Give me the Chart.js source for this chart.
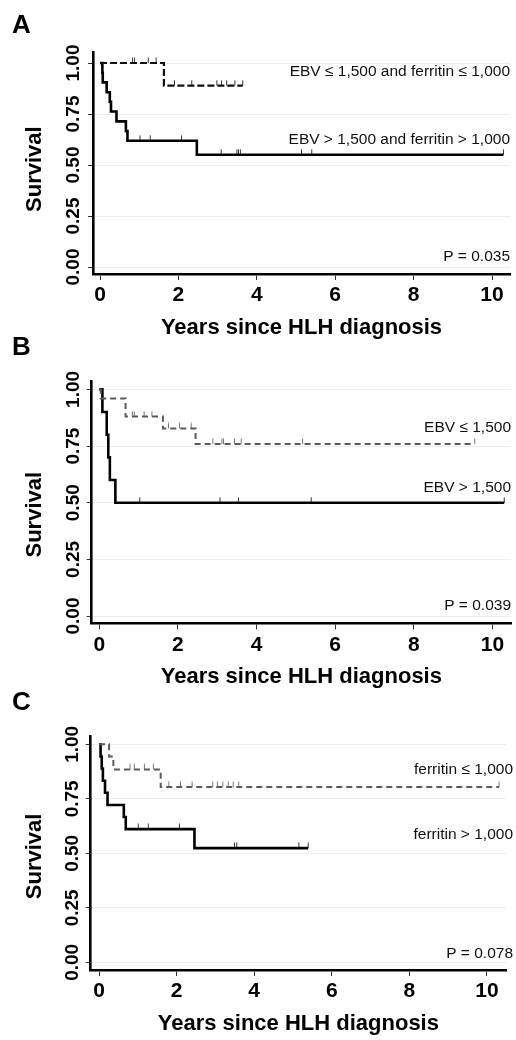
<!DOCTYPE html>
<html><head><meta charset="utf-8">
<script src="https://cdn.jsdelivr.net/npm/chart.js@4.4.0/dist/chart.umd.min.js"></script>
<style>
html,body{margin:0;padding:0;background:#fff;}
#wrap{position:relative;width:516px;height:1040px;overflow:hidden;}
canvas{position:absolute;left:0;top:0;}
</style></head><body>
<div id="wrap">
<canvas id="cA" width="516" height="1040"></canvas>
<canvas id="cB" width="516" height="1040"></canvas>
<canvas id="cC" width="516" height="1040"></canvas>
</div>
<script>
// ---------- data ----------
const xTickValues = [0, 2, 4, 6, 8, 10];
const yTickValues = [0, 0.25, 0.5, 0.75, 1];
const xTitle = 'Years since HLH diagnosis';
const yTitle = 'Survival';
const panelLetters = ['A', 'B', 'C'];

// Panel A
const aLowTime   = [0, 1.63, 3.64];
const aLowSurv   = [1, 0.889, 0.889];
const aLowCensor = [0.83, 0.88, 1.23, 1.43, 1.90, 2.34, 2.98, 3.10, 3.23, 3.44, 3.64];
const aHighTime  = [0, 0.06, 0.07, 0.17, 0.25, 0.28, 0.42, 0.66, 0.70, 2.47, 10.29];
const aHighSurv  = [1, 0.952, 0.905, 0.857, 0.810, 0.762, 0.714, 0.667, 0.619, 0.550, 0.550];
const aHighCensor = [1.02, 1.28, 2.08, 3.09, 3.49, 3.53, 3.58, 5.14, 5.40, 10.29];
const aLabels = ['EBV \u2264 1,500 and ferritin \u2264 1,000', 'EBV > 1,500 and ferritin > 1,000', 'P = 0.035'];

// Panel B
const bLowTime   = [0, 0.04, 0.67, 1.62, 2.45, 9.55];
const bLowSurv   = [1, 0.960, 0.880, 0.828, 0.759, 0.759];
const bLowCensor = [0.84, 0.89, 1.14, 1.34, 1.76, 2.04, 2.34, 2.89, 3.12, 3.16, 3.44, 3.61, 5.17, 9.55];
const bHighTime  = [0, 0.08, 0.19, 0.23, 0.27, 0.41, 10.3];
const bHighSurv  = [1, 0.9, 0.8, 0.7, 0.6, 0.5, 0.5];
const bHighCensor = [1.03, 3.07, 3.54, 5.39, 10.3];
const bLabels = ['EBV \u2264 1,500', 'EBV > 1,500', 'P = 0.039'];

// Panel C
const cLowTime   = [0, 0.26, 0.37, 1.59, 10.31];
const cLowSurv   = [1, 0.944, 0.885, 0.804, 0.804];
const cLowCensor = [0.80, 0.91, 1.17, 1.40, 1.80, 2.10, 2.40, 2.93, 3.05, 3.19, 3.33, 3.46, 3.60, 10.31];
const cHighTime  = [0, 0.04, 0.07, 0.10, 0.155, 0.22, 0.64, 0.69, 2.46, 5.39];
const cHighSurv  = [1, 0.944, 0.889, 0.833, 0.778, 0.722, 0.667, 0.611, 0.524, 0.524];
const cHighCensor = [1.01, 1.27, 2.07, 3.49, 3.55, 5.15, 5.39];
const cLabels = ['ferritin \u2264 1,000', 'ferritin > 1,000', 'P = 0.078'];

// ---------- layout / style ----------
const FONT = '"Liberation Sans", Arial, Helvetica, sans-serif';

const layouts = [
  {id:'cA', top:52, bottom:274, left:93, right:510, xMin:-0.179, xMax:10.459, yMin:-0.0343, yMax:1.054, xAxisH:66.7, yTickPad:-3.8, yTitlePadEnd:'  ', letterBase:33, labelY:[0.956, 0.623, 0.049], labelDx:0, lowColor:'#111', lowDash:[7,3], lowWidth:2.2, lowCensorColor:'#333'},
  {id:'cB', top:381.7, bottom:623.3, left:91.7, right:513, xMin:-0.192, xMax:10.473, yMin:-0.032, yMax:1.034, xAxisH:66.7, yTickPad:-5.1, yTitlePadEnd:'    ', letterBase:355, labelY:[0.832, 0.568, 0.045], labelDx:0, lowColor:'#5a5a5a', lowDash:[6,4], lowWidth:2, lowCensorColor:'#777'},
  {id:'cC', top:736.7, bottom:970, left:90.7, right:506, xMin:-0.214, xMax:10.49, yMin:-0.035, yMax:1.035, xAxisH:66.7, yTickPad:-5.5, yTitlePadEnd:' ', letterBase:710, labelY:[0.882, 0.587, 0.041], labelDx:7, lowColor:'#5a5a5a', lowDash:[6,4], lowWidth:2, lowCensorColor:'#777'}
];

const panels = [
  {lowT:aLowTime, lowS:aLowSurv, lowC:aLowCensor, highT:aHighTime, highS:aHighSurv, highC:aHighCensor, labels:aLabels},
  {lowT:bLowTime, lowS:bLowSurv, lowC:bLowCensor, highT:bHighTime, highS:bHighSurv, highC:bHighCensor, labels:bLabels},
  {lowT:cLowTime, lowS:cLowSurv, lowC:cLowCensor, highT:cHighTime, highS:cHighSurv, highC:cHighCensor, labels:cLabels}
];

function survAt(times, surv, t) {
  let s = surv[0];
  for (let i = 0; i < times.length; i++) { if (times[i] <= t + 1e-9) s = surv[i]; }
  return s;
}
function censorMark(color) {
  const c = document.createElement('canvas');
  c.width = 3; c.height = 12;
  const g = c.getContext('2d');
  g.strokeStyle = color; g.lineWidth = 1;
  g.beginPath(); g.moveTo(1.5, 0.5); g.lineTo(1.5, 6); g.stroke();
  return c;
}

const kmLabels = {
  id: 'kmLabels',
  afterDraw(chart, args, opts) {
    const ctx = chart.ctx, area = chart.chartArea, ys = chart.scales.y;
    ctx.save();
    ctx.fillStyle = '#111';
    ctx.font = '15.5px ' + FONT;
    ctx.textAlign = 'right';
    ctx.textBaseline = 'middle';
    opts.texts.forEach((t, i) => {
      ctx.fillText(t, area.right + opts.dx, ys.getPixelForValue(opts.ys[i]));
    });
    ctx.fillStyle = '#000';
    ctx.font = 'bold 26px ' + FONT;
    ctx.textAlign = 'left';
    ctx.textBaseline = 'alphabetic';
    ctx.fillText(opts.letter, 12, opts.letterBase);
    ctx.restore();
  }
};

panels.forEach((p, k) => {
  const L = layouts[k];
  const datasets = [
    {type:'line', data:p.lowT.map((t, i) => ({x:t, y:p.lowS[i]})), stepped:'before', borderColor:L.lowColor, borderWidth:L.lowWidth, borderDash:L.lowDash, pointRadius:0, fill:false},
    {type:'line', data:p.highT.map((t, i) => ({x:t, y:p.highS[i]})), stepped:'before', borderColor:'#000', borderWidth:2.6, pointRadius:0, fill:false},
    {type:'scatter', data:p.lowC.map(t => ({x:t, y:survAt(p.lowT, p.lowS, t)})), pointStyle:censorMark(L.lowCensorColor), pointRadius:3, showLine:false},
    {type:'scatter', data:p.highC.map(t => ({x:t, y:survAt(p.highT, p.highS, t)})), pointStyle:censorMark('#333'), pointRadius:3, showLine:false}
  ];
  new Chart(document.getElementById(L.id), {
    type: 'line',
    data: {datasets},
    options: {
      responsive: false, animation: false, events: [],
      layout: {padding: {left:0, top:L.top, right:516 - L.right, bottom:1040 - L.bottom - L.xAxisH}},
      plugins: {
        legend: {display:false}, tooltip: {enabled:false},
        kmLabels: {texts:p.labels, ys:L.labelY, dx:L.labelDx, letter:panelLetters[k], letterBase:L.letterBase}
      },
      scales: {
        x: {
          type:'linear', min:L.xMin, max:L.xMax,
          afterBuildTicks: s => { s.ticks = xTickValues.map(v => ({value:v})); },
          afterFit: s => { s.height = L.xAxisH; },
          grid: {drawOnChartArea:false, drawTicks:true, tickLength:6, tickColor:'#333', tickWidth:1},
          border: {display:true, color:'#000', width:2.6},
          ticks: {color:'#000', font:{family:FONT, size:21, weight:'bold'}, padding:3, minRotation:0, maxRotation:0, callback: v => String(v)},
          title: {display:true, text:xTitle, color:'#000', font:{family:FONT, size:22, weight:'bold'}, padding:{top:0, bottom:0}}
        },
        y: {
          type:'linear', min:L.yMin, max:L.yMax,
          afterBuildTicks: s => { s.ticks = yTickValues.map(v => ({value:v})); },
          afterFit: s => { s.width = L.left; },
          grid: {drawOnChartArea:true, color:'#eeeeee', lineWidth:1, drawTicks:true, tickLength:5, tickColor:'#333', tickWidth:1},
          border: {display:true, color:'#000', width:2.6},
          ticks: {color:'#000', font:{family:FONT, size:19, weight:'bold'}, padding:L.yTickPad, minRotation:90, maxRotation:90, crossAlign:'center', callback: v => v.toFixed(2)},
          title: {display:true, text:yTitle + L.yTitlePadEnd, color:'#000', font:{family:FONT, size:22, weight:'bold'}, padding:{top:21.8, bottom:0}}
        }
      }
    },
    plugins: [kmLabels]
  });
});
</script>
</body></html>
